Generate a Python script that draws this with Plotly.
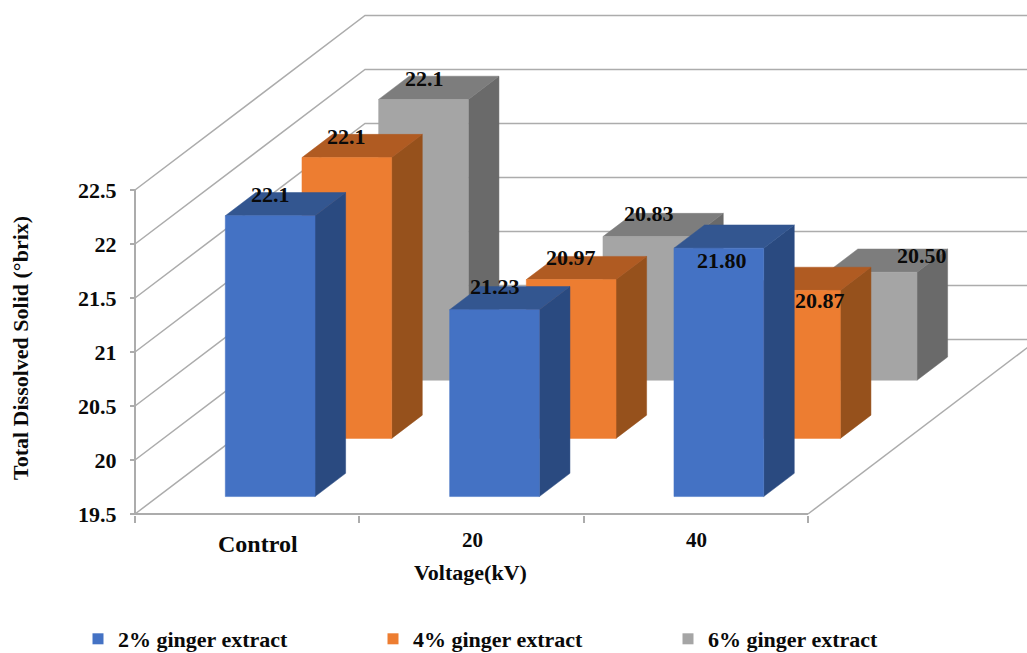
import plotly.graph_objects as go

# ---- data ----
categories = ["Control", "20", "40"]
series_names = ["2% ginger extract", "4% ginger extract", "6% ginger extract"]
ginger_2 = [22.1, 21.23, 21.80]
ginger_4 = [22.1, 20.97, 20.87]
ginger_6 = [22.1, 20.83, 20.50]
value_labels_2 = ["22.1", "21.23", "21.80"]
value_labels_4 = ["22.1", "20.97", "20.87"]
value_labels_6 = ["22.1", "20.83", "20.50"]
y_ticks = [19.5, 20, 20.5, 21, 21.5, 22, 22.5]
y_tick_text = ["19.5", "20", "20.5", "21", "21.5", "22", "22.5"]

# ---- style / oblique projection ----
W, H = 1027, 653
PX_CAT = 224.33      # pixels per category
PX_VAL = 108.0       # pixels per value unit
X0, Y0 = 135.0, 514.0
BASE = 19.5
DX = 230.0 / PX_CAT  # shift of the whole depth, in category units
DY = 174.5 / PX_VAL  # shift of the whole depth, in value units
BAR_W = 0.4
GAP = 0.3
DEPTH0, DEPTH_STEP, DEPTH_BAR = 0.1, 1 / 3, 0.133
FONT = "Liberation Serif"
GRID = "#ACACAC"
INK = "#0A0A0A"
COLORS = [
    dict(front="#4472C4", side="#2A4A80", top="#335690"),
    dict(front="#ED7D31", side="#96511C", top="#B05B22"),
    dict(front="#A5A5A5", side="#6A6A6A", top="#7D7D7D"),
]
LABEL_SHIFT = [
    [(0, 21), (0, 23), (3, -12)],
    [(0, 21), (0, 22), (25, -10)],
    [(1, 21), (1, 23), (50, 17)],
]


def proj(cat_x, depth, value):
    return cat_x + depth * DX, value + depth * DY


def polygon(points):
    xs, ys = zip(*[proj(*p) for p in points])
    return list(xs) + [xs[0], None], list(ys) + [ys[0], None]


fig = go.Figure()

# walls
wx, wy = [], []
for v in y_ticks:
    x1, y1 = proj(0, 0, v)
    x2, y2 = proj(0, 1, v)
    x3, y3 = proj(len(categories), 1, v)
    wx += [x1, x2, x3, None]
    wy += [y1, y2, y3, None]
x1, y1 = proj(len(categories), 0, BASE)
x2, y2 = proj(len(categories), 1, BASE)
wx += [x1, x2, None]
wy += [y1, y2, None]
fig.add_trace(go.Scatter(x=wx, y=wy, mode="lines", line=dict(color=GRID, width=1.5),
                         hoverinfo="skip", showlegend=False))
# front axis lines
fig.add_trace(go.Scatter(x=[0, 0, len(categories)], y=[y_ticks[-1], BASE, BASE], mode="lines",
                         line=dict(color=GRID, width=2), hoverinfo="skip", showlegend=False))

# bars: back series first
all_values = [ginger_2, ginger_4, ginger_6]
for s in [2, 1, 0]:
    d0 = DEPTH0 + s * DEPTH_STEP
    d1 = d0 + DEPTH_BAR
    faces = dict(front=([], []), side=([], []), top=([], []))
    for c, v in enumerate(all_values[s]):
        l, r = c + GAP, c + GAP + BAR_W
        shapes_ = dict(
            front=[(l, d0, BASE), (r, d0, BASE), (r, d0, v), (l, d0, v)],
            side=[(r, d0, BASE), (r, d1, BASE), (r, d1, v), (r, d0, v)],
            top=[(l, d0, v), (r, d0, v), (r, d1, v), (l, d1, v)],
        )
        for k, pts in shapes_.items():
            px, py = polygon(pts)
            faces[k][0].extend(px)
            faces[k][1].extend(py)
    for k in ["side", "top", "front"]:
        fig.add_trace(go.Scatter(
            x=faces[k][0], y=faces[k][1], mode="lines", fill="toself",
            fillcolor=COLORS[s][k], line=dict(color=COLORS[s][k], width=0.5),
            hoverinfo="skip", showlegend=False))

# legend entries
for name, col in zip(series_names, COLORS):
    fig.add_trace(go.Scatter(x=[None], y=[None], mode="markers", name=name,
                             marker=dict(symbol="square", size=11, color=col["front"])))

# value labels
annotations = []
all_text = [value_labels_2, value_labels_4, value_labels_6]
for s in range(3):
    d0 = DEPTH0 + s * DEPTH_STEP
    for c, v in enumerate(all_values[s]):
        ax, ay = proj(c + GAP + BAR_W / 2, d0, v)
        sx, sy = LABEL_SHIFT[s][c]
        annotations.append(dict(x=ax, y=ay, xref="x", yref="y", text=all_text[s][c], showarrow=False,
                                xshift=sx, yshift=sy,
                                font=dict(family=FONT, size=22, color=INK, weight="bold")))

# category labels
cat_shift = [(11, -30, 24), (1, -26, 21), (1, -26, 21)]
for c, name in enumerate(categories):
    sx, sy, fs = cat_shift[c]
    annotations.append(dict(x=c + 0.5, y=BASE, xref="x", yref="y", text=name, showarrow=False,
                            xshift=sx, yshift=sy,
                            font=dict(family=FONT, size=fs, color=INK, weight="bold")))

# axis titles
annotations.append(dict(x=1.5, y=BASE, xref="x", yref="y", text="Voltage(kV)", showarrow=False,
                        xshift=-1, yshift=-58,
                        font=dict(family=FONT, size=22, color=INK, weight="bold")))
annotations.append(dict(x=0, y=21, xref="x", yref="y", text="Total Dissolved Solid (°brix)",
                        showarrow=False, textangle=-90, xshift=-115, yshift=4,
                        font=dict(family=FONT, size=22, color=INK, weight="bold")))

fig.update_layout(
    width=W, height=H,
    margin=dict(l=0, r=0, t=0, b=0, autoexpand=False),
    paper_bgcolor="white", plot_bgcolor="white",
    xaxis=dict(range=[-X0 / PX_CAT, (W - X0) / PX_CAT], domain=[0, 1],
               anchor="free", position=(H - Y0 - 1) / H,
               tickmode="array", tickvals=[0, 1, 2, 3], ticktext=["", "", "", ""],
               ticks="outside", ticklen=7, tickcolor=GRID, tickwidth=1.5,
               showline=False, showgrid=False, zeroline=False, automargin=False,
               fixedrange=True),
    yaxis=dict(range=[BASE - (H - Y0) / PX_VAL, BASE + Y0 / PX_VAL], domain=[0, 1],
               anchor="free", position=X0 / W,
               tickmode="array", tickvals=y_ticks, ticktext=y_tick_text,
               ticks="outside", ticklen=5, tickcolor=GRID, tickwidth=1.5, ticklabelstandoff=9,
               tickfont=dict(family=FONT, size=22, color=INK, weight="bold"),
               showline=False, showgrid=False, zeroline=False, automargin=False,
               fixedrange=True),
    legend=dict(orientation="h", x=78 / W, xanchor="left", y=(H - 618) / H, yanchor="top",
                entrywidth=250, entrywidthmode="pixels", itemwidth=30,
                font=dict(family=FONT, size=22, color=INK, weight="bold"),
                bgcolor="rgba(0,0,0,0)", tracegroupgap=0),
    annotations=annotations,
    hovermode=False,
)

fig.write_html("out.html", post_script="document.body.style.margin='0';",
               config=dict(displayModeBar=False))
